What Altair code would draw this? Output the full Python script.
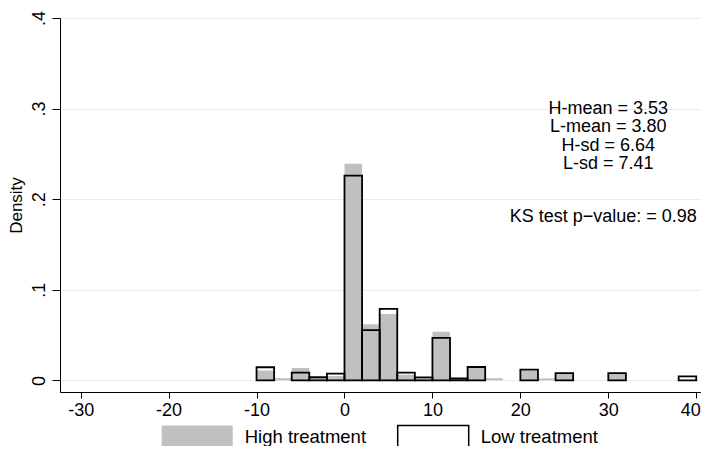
import altair as alt
import pandas as pd

# ---- data (density per bin of width 2) ----
bin_width = 2
groups = ["High treatment", "Low treatment"]
high_left = [-10, -8, -6, -4, -2, 0, 2, 4, 6, 8, 10, 12, 14, 16, 20, 22, 24, 30]
high_density = [0.0110, 0.0024, 0.0137, 0.0030, 0.0048, 0.2390, 0.0620, 0.0733,
                0.0063, 0.0026, 0.0537, 0.0015, 0.0140, 0.0024, 0.0110, 0.0022,
                0.0075, 0.0075]
low_left = [-10, -6, -4, -2, 0, 2, 4, 6, 8, 10, 12, 14, 20, 24, 30, 38]
low_density = [0.0145, 0.0085, 0.0035, 0.0074, 0.2260, 0.0556, 0.0789, 0.0085,
               0.0033, 0.0470, 0.0022, 0.0148, 0.0119, 0.0081, 0.0081, 0.0044]
stats_lines = ["H-mean = 3.53", "L-mean = 3.80", "H-sd = 6.64", "L-sd = 7.41"]
ks_text = "KS test p\u2212value: = 0.98"
x_ticks = [-30, -20, -10, 0, 10, 20, 30, 40]
y_ticks = [0, 0.1, 0.2, 0.3, 0.4]

rows = []
for l, d in zip(high_left, high_density):
    rows.append({"group": groups[0], "left": l, "right": l + bin_width, "density": d})
for l, d in zip(low_left, low_density):
    rows.append({"group": groups[1], "left": l, "right": l + bin_width, "density": d})
df = pd.DataFrame(rows)

FONT = "Liberation Sans"

xscale = alt.Scale(domain=[-32.35, 40.54], nice=False, zero=False)
yscale = alt.Scale(domain=[-0.0128, 0.4], nice=False, zero=False)

bars = alt.Chart(df).mark_bar(strokeWidth=1.8, strokeJoin="miter").encode(
    x=alt.X("left:Q", scale=xscale,
            axis=alt.Axis(values=x_ticks, labelExpr="'' + datum.value", title=None, grid=False,
                          labelFontSize=18, labelFont=FONT, labelColor="black",
                          labelOffset={"condition": {"test": "datum.value == 40", "value": -6}, "value": 0},
                          tickColor="black", tickSize=6, tickWidth=1,
                          domainColor="black", domainWidth=1, labelPadding=3)),
    x2="right:Q",
    y=alt.Y("density:Q", scale=yscale,
            axis=alt.Axis(values=y_ticks, title="Density", grid=True,
                          gridColor="#e6eff0", gridWidth=1,
                          labelExpr="datum.value == 0 ? '0' : replace(format(datum.value, '.1f'), '0.', '.')",
                          labelAngle=270, labelAlign="center", labelBaseline="bottom",
                          labelFontSize=18, labelFont=FONT, labelColor="black",
                          labelPadding=4, tickColor="black", tickSize=8, tickWidth=1,
                          domainColor="black", domainWidth=1,
                          titleFont=FONT, titleFontSize=17, titleFontWeight="normal",
                          titleColor="black", titleAngle=270, titleX=-44, titleY=187,
                          titleAlign="center", titleBaseline="middle")),
    y2=alt.datum(0),
    fill=alt.Fill("group:N", title=None,
                  scale=alt.Scale(domain=groups, range=["#c0c0c0", "rgba(255,255,255,0)"])),
    stroke=alt.Stroke("group:N", title=None,
                      scale=alt.Scale(domain=groups, range=["rgba(0,0,0,0)", "#000000"])),
)

stats = alt.Chart(pd.DataFrame({"label": ["\n".join(stats_lines)]})).mark_text(
    lineBreak="\n", font=FONT, fontSize=18, lineHeight=18.5, color="black",
    align="center", baseline="middle"
).encode(text="label:N", x=alt.datum(30), y=alt.datum(0.3))

ks = alt.Chart(pd.DataFrame({"label": [ks_text]})).mark_text(
    font=FONT, fontSize=18, color="black", align="center", baseline="middle", dx=-5
).encode(text="label:N", x=alt.datum(30), y=alt.datum(0.18))

chart = alt.layer(bars, stats, ks).properties(
    width=641, height=374,
    autosize=alt.AutoSizeParams(type="none"),
    padding={"left": 52, "top": 10, "right": 0, "bottom": 54},
    background="white",
).configure_view(stroke=None).configure_legend(
    orient="none", legendX=100.7, legendY=382.5, direction="horizontal",
    symbolType="M-1,-0.333L1,-0.333L1,0.333L-1,0.333Z", symbolSize=5041,
    symbolStrokeWidth=1.5, labelOffset=11, columnPadding=28, padding=0,
    labelFont=FONT, labelFontSize=18.5, labelColor="black", labelLimit=300,
)

chart.save("out.html", embed_options={"renderer": "svg", "actions": False})
